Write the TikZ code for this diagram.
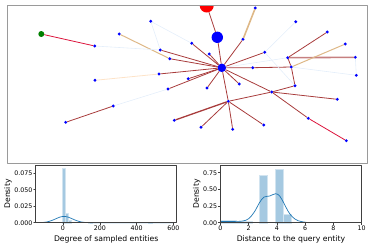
\documentclass[tikz,border=0pt]{standalone}
\usepackage{fontspec}
\setmainfont{DejaVu Sans}
\definecolor{entity}{HTML}{0000FF}
\definecolor{target}{HTML}{FF0000}
\definecolor{source}{HTML}{008000}
\definecolor{edgered}{HTML}{A83C3C}
\definecolor{edgecrimson}{HTML}{DC143C}
\definecolor{edgetan}{HTML}{DEB887}
\definecolor{faintblue}{HTML}{E4EEFA}
\definecolor{edgepeach}{HTML}{FDE3C8}
\definecolor{kdeblue}{HTML}{1F77B4}
\definecolor{histblue}{HTML}{A5C9E1}
\definecolor{framegray}{HTML}{9A9A9A}

\begin{document}
\begin{tikzpicture}[
  x=1pt, y=-1pt,
  line cap=round, line join=round,
  every node/.style={inner sep=1pt},
  ent/.style={circle, fill=entity, inner sep=0pt, minimum size=3.2pt},
  hop/.style={draw=edgered, line width=0.8pt},
  far/.style={draw=edgecrimson, line width=0.8pt},
  sand/.style={draw=edgetan, line width=1pt},
  pale/.style={draw=faintblue, line width=0.6pt},
  peach/.style={draw=edgepeach, line width=0.8pt},
  ticklab/.style={font=\fontsize{6.3}{7}\selectfont},
  axlab/.style={font=\fontsize{7.7}{9}\selectfont},
  spine/.style={line width=0.5pt, draw=black!75},
  bar/.style={fill=histblue, draw=histblue!50!white, line width=0.3pt},
  kde/.style={draw=kdeblue, line width=0.7pt},
]
\useasboundingbox (0,0) rectangle (371,247);
\begin{scope}
\clip (7,5) rectangle (367,163);
\node[circle, fill=target, inner sep=0pt, minimum size=14pt] (r) at (206.7,5.5) {};
\node[circle, fill=entity, inner sep=0pt, minimum size=11.4pt] (b) at (217.3,37.3) {};
\node[circle, fill=entity, inner sep=0pt, minimum size=8.6pt] (hub) at (221.8,67.8) {};
\node[circle, fill=source, inner sep=0pt, minimum size=6pt] (g) at (41.3,34) {};
\node[ent] (a1) at (94.7,46) {};
\node[ent] (a2) at (119.3,34) {};
\node[ent] (a3) at (150.7,21.3) {};
\node[ent] (a4) at (160.3,50) {};
\node[ent] (a5) at (169.7,58.7) {};
\node[ent] (a6) at (95,80.3) {};
\node[ent] (a7) at (159,74) {};
\node[ent] (a8) at (168,89) {};
\node[ent] (a9) at (113.3,106) {};
\node[ent] (a10) at (65.7,122.3) {};
\node[ent] (a11) at (174.3,120.3) {};
\node[ent] (c1) at (255.3,8) {};
\node[ent] (c2) at (243,39.3) {};
\node[ent] (c3) at (191.7,43.3) {};
\node[ent] (c4) at (209.3,54) {};
\node[ent] (c5) at (264.7,52.3) {};
\node[ent] (c6) at (252.7,67.7) {};
\node[ent] (c7) at (188.3,78.7) {};
\node[ent] (c8) at (207,88) {};
\node[ent] (c9) at (239.3,84) {};
\node[ent] (c10) at (228.3,101.3) {};
\node[ent] (c11) at (201,127.3) {};
\node[ent] (c12) at (232.7,129.3) {};
\node[ent] (c13) at (263.7,125) {};
\node[ent] (d1) at (295.7,21.7) {};
\node[ent] (d2) at (327.3,32) {};
\node[ent] (d3) at (345.3,44) {};
\node[ent] (d4) at (287.7,57.7) {};
\node[ent] (d5) at (355.3,57.3) {};
\node[ent] (d6) at (291.3,67) {};
\node[ent] (d7) at (356.3,75.3) {};
\node[ent] (d8) at (295,85.7) {};
\node[ent] (d9) at (271.7,92) {};
\node[ent] (d10) at (337.3,99.3) {};
\node[ent] (d11) at (308.3,118.3) {};
\node[ent] (d12) at (346.3,140.7) {};
\draw[hop] (r) -- (b);
\draw[hop] (b) -- (hub);
\draw[hop] (c2) -- (hub);
\draw[hop] (c3) -- (hub);
\draw[hop] (c4) -- (hub);
\draw[hop] (c5) -- (hub);
\draw[hop] (a4) -- (hub);
\draw[hop] (a5) -- (hub);
\draw[hop] (a7) -- (hub);
\draw[hop] (a8) -- (hub);
\draw[hop] (a9) -- (a10);
\draw[hop, line width=1.3pt] (a11) -- (c10);
\draw[hop] (hub) -- (c6);
\draw[hop] (c6) -- (d6);
\draw[hop, draw=edgered!65, line width=1.6pt] (d4) -- (d5);
\draw[hop] (d4) -- (d2);
\draw[hop] (d4) -- (d6);
\draw[hop] (d6) -- (d8);
\draw[hop] (d8) -- (d9);
\draw[hop] (d9) -- (c10);
\draw[hop] (d9) -- (d10);
\draw[hop] (d9) -- (d11);
\draw[hop] (hub) -- (c10);
\draw[hop] (hub) -- (d9);
\draw[hop] (hub) -- (c7);
\draw[hop] (hub) -- (c8);
\draw[hop] (hub) -- (c9);
\draw[hop] (c10) -- (c11);
\draw[hop] (c10) -- (c12);
\draw[hop] (c10) -- (c13);
\draw[sand] (a2) -- (a5);
\draw[sand, line width=1.6pt] (c1) -- (c2);
\draw[sand] (d6) -- (d3);
\draw[pale] (a1) -- (a4);
\draw[pale] (a3) -- (a4);
\draw[pale] (a3) -- (c3);
\draw[pale] (a8) -- (a9);
\draw[pale] (d1) -- (c5);
\draw[pale] (c5) -- (d8);
\draw[pale] (hub) -- (d4);
\draw[pale] (d6) -- (d7);
\draw[pale] (d5) -- (d7);
\draw[peach] (a6) -- (a7);
\draw[far] (g) -- (a1);
\draw[far] (d11) -- (d12);
\end{scope}
\draw[draw=framegray, line width=1pt] (7,5) rectangle (367,163);
\draw[bar] (61.7,222.7) rectangle (65.0,168.0);
\draw[bar] (65.0,222.7) rectangle (68.3,212.8);
\draw[bar] (68.3,222.7) rectangle (71.6,220.1);
\draw[bar] (88.5,222.7) rectangle (91.8,221.7);
\draw[bar] (148.5,222.7) rectangle (151.8,221.7);
\draw[kde] plot[domain=41.7:100, samples=90] (\x, {222.7-6.26*exp(-((\x-64)/8.5)^2/2)}) -- (173,222.7);
\draw[spine] (35.7,165) rectangle (176.7,222.7);
\foreach \px/\t [count=\i] in {63/0, 99.8/200, 136.6/400, 173.4/600} {
  \draw[spine] (\px,222.7) -- ++(0,2);
  \node[ticklab, anchor=north] (dx\i) at (\px,224.5) {\t};
}
\foreach \py/\t [count=\i] in {173.3/0.075, 189.7/0.050, 206.2/0.025, 222.7/0.000} {
  \draw[spine] (35.7,\py) -- ++(-2,0);
  \node[ticklab, anchor=east] (dy\i) at (33.7,\py) {\t};
}
\node[axlab] (degree) at (106.2,239.5) {Degree of sampled entities};
\node[axlab, rotate=90] (densl) at (8,194) {Density};
\draw[bar] (220.3,222.7) rectangle (236.3,220.0);
\draw[bar] (236.3,222.7) rectangle (252.3,220.7);
\draw[bar] (259.6,222.7) rectangle (267.6,174.7);
\draw[bar] (275.5,222.7) rectangle (283.4,168.7);
\draw[bar] (283.4,222.7) rectangle (291.3,214.0);
\draw[kde] plot[smooth, tension=0.6] coordinates {(220.3,221.4) (234.5,221.4) (242.9,221.0) (248.6,218.7) (254.3,212.0) (259.9,202.0) (264.2,197.0) (269.8,196.0) (275.5,193.7) (279.7,196.0) (284.0,203.4) (288.2,211.4) (292.5,217.0) (298.1,220.7) (305.2,222.2) (309.4,222.7)};
\draw[spine] (220.3,165) rectangle (361.7,222.7);
\foreach \px/\t [count=\i] in {220.3/0, 248.6/2, 276.9/4, 305.1/6, 333.4/8, 361.7/10} {
  \draw[spine] (\px,222.7) -- ++(0,2);
  \node[ticklab, anchor=north] (ex\i) at (\px,224.5) {\t};
}
\foreach \py/\t [count=\i] in {172.7/0.75, 189.4/0.50, 206.0/0.25, 222.7/0.00} {
  \draw[spine] (220.3,\py) -- ++(-2,0);
  \node[ticklab, anchor=east] (ey\i) at (218.3,\py) {\t};
}
\node[axlab] (distance) at (291,239.5) {Distance to the query entity};
\node[axlab, rotate=90] (densr) at (196.7,194) {Density};
\end{tikzpicture}
\end{document}
